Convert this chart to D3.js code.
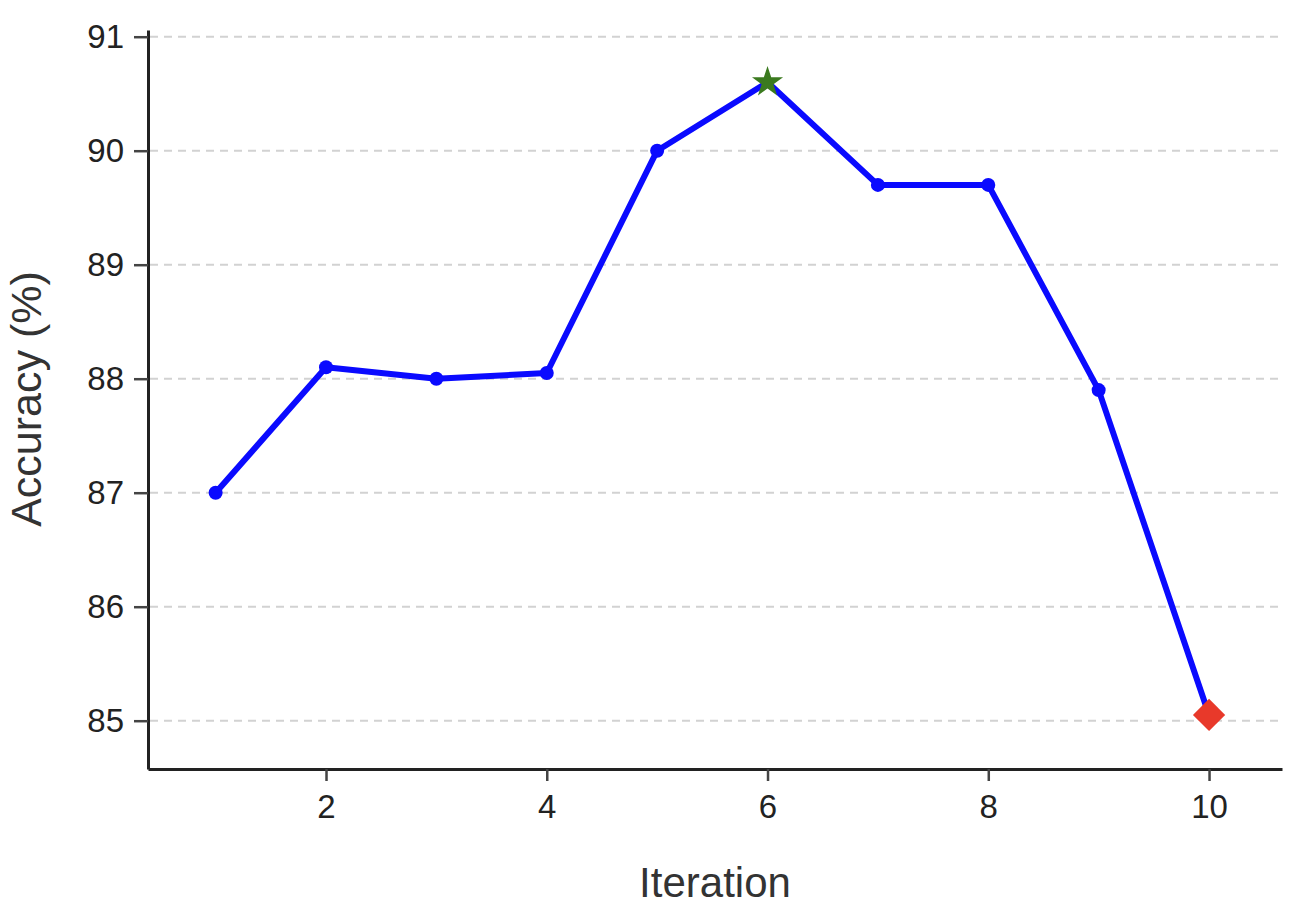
<!DOCTYPE html>
<html><head><meta charset="utf-8">
<script src="https://cdn.jsdelivr.net/npm/d3@7"></script>
<style>body{margin:0;background:#fff}svg{display:block}text{font-family:"Liberation Sans",Arial,sans-serif}</style>
</head><body><svg id="c" width="1300" height="908"></svg>
<script>
const iterations = [1,2,3,4,5,6,7,8,9,10];
const accuracy = [87.0,88.1,88.0,88.05,90.0,90.6,89.7,89.7,87.9,85.05];
const xTicks = [2,4,6,8,10];
const yTicks = [85,86,87,88,89,90,91];
const bestIndex = 5, lastIndex = 9;

const svg = d3.select("#c");
const x = d3.scaleLinear().domain([0.3873,10.661]).range([148,1282]);
const y = d3.scaleLinear().domain([84.5763,91.0588]).range([769,30]);

// grid
svg.append("g").selectAll("line").data(yTicks).join("line")
  .attr("x1",150).attr("x2",1282).attr("y1",d=>y(d)).attr("y2",d=>y(d))
  .attr("stroke","#d2d2d2").attr("stroke-width",2).attr("stroke-dasharray","8,6");

const xa = svg.append("g").attr("transform","translate(0,769)")
  .call(d3.axisBottom(x).tickValues(xTicks).tickSize(12).tickSizeOuter(0).tickPadding(14).tickFormat(d3.format("d")));
const ya = svg.append("g").attr("transform","translate(148,0)")
  .call(d3.axisLeft(y).tickValues(yTicks).tickSize(14).tickSizeOuter(0).tickPadding(10).tickFormat(d3.format("d")));
[xa,ya].forEach(g=>{
  g.select(".domain").attr("stroke","#222").attr("stroke-width",3);
  g.selectAll(".tick line").attr("stroke","#444").attr("stroke-width",2.5);
  g.selectAll(".tick text").attr("fill","#222").style("font-size","33px");
});

const pts = iterations.map((d,i)=>({x:d,y:accuracy[i]}));
svg.append("path").datum(pts)
  .attr("d",d3.line().x(d=>x(d.x)).y(d=>y(d.y)))
  .attr("fill","none").attr("stroke","#0a0aff").attr("stroke-width",6).attr("stroke-linejoin","round");
svg.append("g").selectAll("circle").data(pts.filter((d,i)=>i!==bestIndex && i!==lastIndex)).join("circle")
  .attr("cx",d=>x(d.x)).attr("cy",d=>y(d.y)).attr("r",7).attr("fill","#0a0aff");

const b = pts[bestIndex];
svg.append("path").attr("d",d3.symbol().type(d3.symbolStar).size(300)())
  .attr("transform",`translate(${x(b.x)},${y(b.y)})`).attr("fill","#3b7a1f");
const l = pts[lastIndex];
svg.append("path").attr("d",d3.symbol().type(d3.symbolSquare).size(520)())
  .attr("transform",`translate(${x(l.x)},${y(l.y)}) rotate(45)`).attr("fill","#e8392a");

svg.append("text").attr("x",715).attr("y",897).attr("text-anchor","middle")
  .attr("fill","#333").style("font-size","42px").text("Iteration");
svg.append("text").attr("transform","translate(41,399) rotate(-90)").attr("text-anchor","middle")
  .attr("fill","#333").style("font-size","43px").text("Accuracy (%)");
</script></body></html>
